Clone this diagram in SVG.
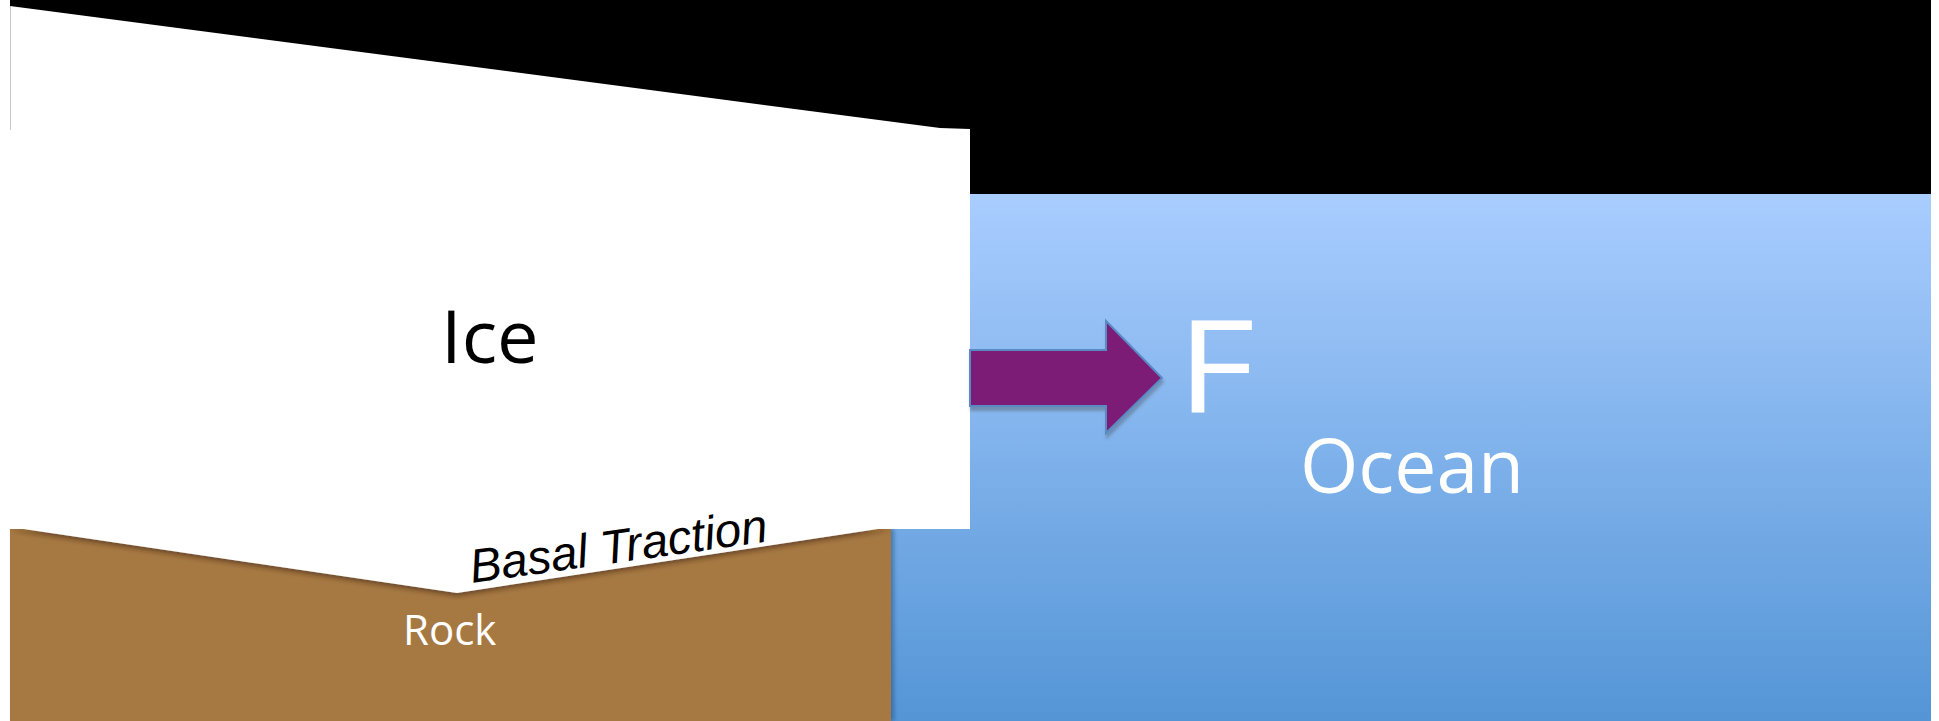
<svg xmlns="http://www.w3.org/2000/svg" width="1939" height="721" viewBox="0 0 1939 721">
  <defs>
    <linearGradient id="oceanFill" x1="0" y1="0" x2="0" y2="1">
      <stop offset="0" stop-color="#A9CDFF"/>
      <stop offset="1" stop-color="#5495D6"/>
    </linearGradient>
    <filter id="bedShadow" x="-5%" y="-20%" width="110%" height="160%">
      <feDropShadow dx="0" dy="3" stdDeviation="2.5" flood-color="#3a2410" flood-opacity="0.55"/>
    </filter>
    <filter id="rockShadow" x="-5%" y="-5%" width="110%" height="110%">
      <feDropShadow dx="3" dy="0" stdDeviation="2" flood-color="#1f3f70" flood-opacity="0.45"/>
    </filter>
    <filter id="arrowShadow" x="-10%" y="-10%" width="120%" height="130%">
      <feDropShadow dx="1" dy="4" stdDeviation="1.5" flood-color="#404040" flood-opacity="0.35"/>
    </filter>
    <style>
      .label { font-family: "Open Sans", "Noto Sans", sans-serif; }
      .light { fill: #FFFFFF; }
      .dark { fill: #000000; }
    </style>
  </defs>

  <rect width="1939" height="721" fill="#FFFFFF"/>

  <!-- night sky band above the water line -->
  <rect id="sky" x="10" y="0" width="1921" height="194" fill="#000000"/>

  <!-- ocean body, sits behind the ice front -->
  <g id="ocean">
    <rect x="891" y="194" width="1040" height="527" fill="url(#oceanFill)"/>
    <text class="label light" x="1300" y="493" font-size="75">Ocean</text>
  </g>

  <!-- bedrock with the basal trough -->
  <g id="rock">
    <rect x="10" y="529" width="881" height="192" fill="#A67942" filter="url(#rockShadow)"/>
    <polygon points="10,527 457,593 891,527" fill="#FFFFFF" filter="url(#bedShadow)"/>
    <text class="label light" x="403" y="645" font-size="42">Rock</text>
  </g>

  <!-- grounded ice sheet -->
  <g id="ice">
    <polygon points="10,6 940,128 970,129 970,529 10,529" fill="#FFFFFF"/>
    <line x1="10.5" y1="6" x2="10.5" y2="130" stroke="#C8C8C8" stroke-width="1"/>
    <text class="label dark" x="441" y="363" font-size="74">Ice</text>
  </g>

  <!-- label along the ice/rock interface -->
  <g id="basal-traction">
    <text x="472" y="583" transform="rotate(-8 472 583)" font-family="Liberation Sans, Arial, sans-serif" font-style="italic" font-size="47.5" fill="#000000">Basal Traction</text>
  </g>

  <!-- force arrow pushing from the ice front into the ocean -->
  <g id="connectors">
    <polygon points="970,350 1106,350 1106,321 1162,378 1106,433 1106,406 970,406" fill="#7B1A77" stroke="#5A8AC4" stroke-width="2" stroke-linejoin="miter" filter="url(#arrowShadow)"/>
  </g>

  <g id="force">
    <text class="label light" x="1177" y="412" font-size="129" textLength="78" lengthAdjust="spacingAndGlyphs">F</text>
  </g>
</svg>
